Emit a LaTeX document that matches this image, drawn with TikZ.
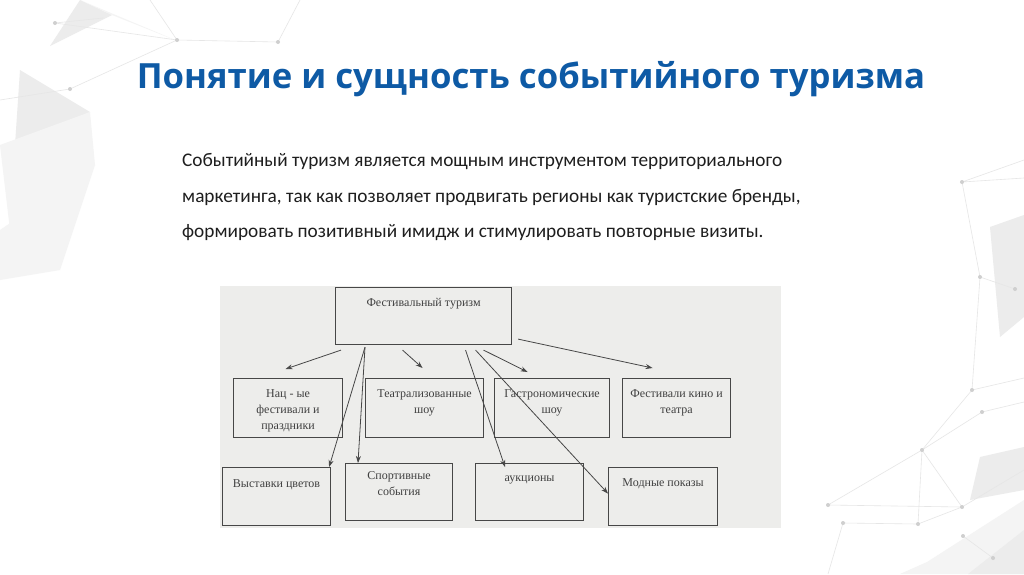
\documentclass[tikz,border=0pt]{standalone}
\usepackage{fontspec}
\setmainfont{Carlito}
\newfontfamily\titlefont{Open Sans}
\newfontfamily\scanfont{Liberation Serif}
\usepackage{tikz}
\usetikzlibrary{arrows.meta,calc}
\definecolor{baslikMavi}{HTML}{0E5AA5}
\definecolor{metinSiyah}{HTML}{1E1E1E}
\definecolor{taramaGri}{HTML}{EDEDEB}
\definecolor{kutuCizgi}{HTML}{474747}
\definecolor{desenGri}{HTML}{ECECEC}
\definecolor{desenAcik}{HTML}{F4F4F4}
\definecolor{desenCizgi}{HTML}{E6E6E6}
\newcommand{\kutuyazi}[4]{\parbox[c][#2pt][t]{#1pt}{\centering\rule{0pt}{#3pt}#4}}

\begin{document}
\begin{tikzpicture}[x=1pt,y=-1pt,
  kutu/.style={draw=kutuCizgi,line width=1.1pt,inner sep=0pt,anchor=north west,
    font=\scanfont\fontsize{12}{16}\selectfont,text=kutuCizgi!90!black},
  ok/.style={draw=kutuCizgi,line width=0.8pt,-{Stealth[length=7pt,width=5pt]}},
  desen/.style={draw=desenCizgi,line width=0.6pt}]
\useasboundingbox (0,0) rectangle (1024,574);
\fill[white] (0,0) rectangle (1024,574);
\fill[desenGri] (50,46)--(80,0)--(112,15)--cycle;
\fill[desenAcik] (80,0)--(180,42)--(112,15)--cycle;
\fill[desenGri] (20,70)--(90,112)--(15,145)--cycle;
\fill[desenAcik] (0,145)--(90,112)--(95,165)--(10,230)--cycle;
\fill[desenAcik] (0,230)--(95,165)--(60,270)--(0,280)--cycle;
\fill[desenGri] (990,227)--(1024,215)--(1024,317)--(1000,337)--cycle;
\fill[desenGri] (980,457)--(1024,447)--(1024,490)--(970,500)--cycle;
\fill[desenAcik] (927,562)--(1024,500)--(1024,574)--(900,574)--cycle;
\fill[desenGri] (968,574)--(1024,530)--(1024,574)--cycle;
\draw[desen] (103,18)--(55,23)--(177,40)--(278,42)--(300,0);
\draw[desen] (150,0)--(177,40)--(70,89)--(0,100);
\draw[desen] (1024,160)--(962,182)--(1024,178);
\draw[desen] (962,182)--(980,277)--(1015,289);
\draw[desen] (980,277)--(972,390)--(1024,378);
\draw[desen] (972,390)--(922,450)--(828,505)--(962,507)--(1024,470);
\draw[desen] (1024,402)--(982,412)--(922,450)--(918,524)--(962,507)--(922,450);
\draw[desen] (828,574)--(843,523)--(918,524);
\draw[desen] (963,536)--(993,558);
\foreach \p in {(55,23),(177,40),(278,42),(70,89),(962,182),(980,277),(1015,289),
  (972,390),(982,412),(922,450),(828,505),(843,523),(918,524),(962,507),(963,536),(993,558)}
  \fill[desenCizgi!90!black] \p circle (2);

\node[anchor=base,text=baslikMavi,font=\titlefont\bfseries\fontsize{34.7}{40}\selectfont] (baslik) at (531,88) {Понятие и сущность событийного туризма};
\node[anchor=base west,text=metinSiyah,font=\fontsize{19.3}{23}\selectfont,inner sep=0pt] (satir1) at (182,166) {Событийный туризм является мощным инструментом территориального};
\node[anchor=base west,text=metinSiyah,font=\fontsize{19.3}{23}\selectfont,inner sep=0pt] (satir2) at (182,202) {маркетинга, так как позволяет продвигать регионы как туристские бренды,};
\node[anchor=base west,text=metinSiyah,font=\fontsize{19.3}{23}\selectfont,inner sep=0pt] (satir3) at (182,237) {формировать позитивный имидж и стимулировать повторные визиты.};

\fill[taramaGri] (220,286) rectangle (781,528);
\node[kutu] (fest) at (335,287) {\kutuyazi{176}{57}{19}{Фестивальный туризм}};
\node[kutu] (nac) at (233,378) {\kutuyazi{109}{59}{19}{Нац - ые\\фестивали и\\праздники}};
\node[kutu] (teatr) at (365,378) {\kutuyazi{118}{59}{19}{Театрализованные\\шоу}};
\node[kutu] (gastro) at (494,378) {\kutuyazi{115}{59}{19}{Гастрономические\\шоу}};
\node[kutu] (kino) at (622,378) {\kutuyazi{108}{59}{19}{Фестивали кино и\\театра}};
\node[kutu] (vyst) at (222,467) {\kutuyazi{108}{58}{20}{Выставки цветов}};
\node[kutu] (sport) at (345,463) {\kutuyazi{107}{57}{16}{Спортивные\\события}};
\node[kutu] (aukc) at (475,463) {\kutuyazi{108}{57}{18}{аукционы}};
\node[kutu] (modn) at (608,467) {\kutuyazi{109}{58}{19}{Модные показы}};

\draw[ok] ($(fest.south west)+(6,5)$)--($(nac.north)+(-2.5,-9)$);
\draw[ok] ($(fest.south)+(-21,5)$)--($(teatr.north)+(-2,-10)$);
\draw[ok] ($(fest.south)+(60,5)$)--($(gastro.north)+(-24.5,-6)$);
\draw[ok] ($(fest.south east)+(6,-6)$)--($(kino.north)+(-24,-10)$);
\draw[ok] ($(fest.south west)+(30,2)$)--($(vyst.north east)+(-2,0)$);
\draw[ok] ($(fest.south west)+(30,2)$)--($(sport.north west)+(13,0)$);
\draw[ok] ($(fest.south)+(42,5)$)--($(aukc.north west)+(30,4)$);
\draw[ok] ($(fest.south)+(52,5)$)--($(modn.west)+(0,-3)$);
\end{tikzpicture}
\end{document}
